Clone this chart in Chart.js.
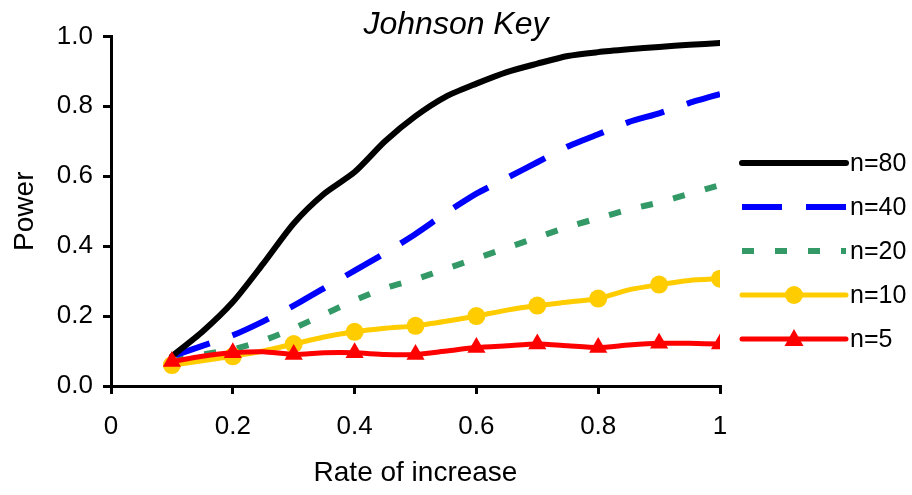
<!DOCTYPE html>
<html>
<head>
<meta charset="utf-8">
<title>Johnson Key</title>
<script src="https://cdn.jsdelivr.net/npm/chart.js@4"></script>
<style>
  html, body { margin: 0; padding: 0; background: #ffffff; }
  #wrap { width: 912px; height: 495px; position: relative; }
</style>
</head>
<body>
<div id="wrap"><canvas id="powerChart"></canvas></div>
<script>
// rate of increase (x) -- simulated every 0.05, markers every 0.1
const rates = [0.1, 0.15, 0.2, 0.25, 0.3, 0.35, 0.4, 0.45, 0.5, 0.55, 0.6, 0.65, 0.7, 0.75, 0.8, 0.85, 0.9, 0.95, 1.0];

const power80 = [0.085, 0.155, 0.24, 0.35, 0.465, 0.55, 0.612, 0.7, 0.772, 0.828, 0.865, 0.898, 0.922, 0.944, 0.955, 0.963, 0.97, 0.976, 0.981];
const power40 = [0.085, 0.115, 0.145, 0.185, 0.23, 0.28, 0.33, 0.38, 0.435, 0.495, 0.55, 0.595, 0.64, 0.685, 0.72, 0.755, 0.78, 0.81, 0.835];
const power20 = [0.075, 0.09, 0.105, 0.13, 0.165, 0.205, 0.245, 0.28, 0.305, 0.335, 0.365, 0.395, 0.425, 0.455, 0.48, 0.505, 0.525, 0.55, 0.575];
const power10 = [0.06, 0.072, 0.085, 0.1, 0.12, 0.14, 0.155, 0.165, 0.172, 0.185, 0.2, 0.217, 0.23, 0.24, 0.25, 0.275, 0.29, 0.302, 0.307];
const power5 = [0.07, 0.085, 0.095, 0.098, 0.09, 0.095, 0.095, 0.09, 0.09, 0.1, 0.11, 0.115, 0.12, 0.115, 0.11, 0.117, 0.122, 0.122, 0.12];

const seriesNames = ['n=80', 'n=40', 'n=20', 'n=10', 'n=5'];

const FONT = '"Liberation Sans", Arial, sans-serif';

function toPoints(values) {
    return values.map((v, i) => ({ x: rates[i], y: v }));
}

// markers only on the 0.1 steps (even indexes)
const everyOther = (r) => (ctx) => (ctx.dataIndex % 2 === 0 ? r : 0);

// legend drawn on the right, line sample + marker + label
const sideLegend = {
    id: 'sideLegend',
    afterDraw(chart) {
        const ctx = chart.ctx;
        const x0 = 742, x1 = 846, top = 163, step = 44;
        chart.data.datasets.forEach((ds, i) => {
            const y = top + i * step;
            ctx.save();
            ctx.strokeStyle = ds.borderColor;
            ctx.lineWidth = ds.borderWidth;
            ctx.lineCap = ds.borderCapStyle || 'butt';
            ctx.setLineDash(ds.borderDash || []);
            ctx.beginPath();
            ctx.moveTo(x0, y);
            ctx.lineTo(x1, y);
            ctx.stroke();
            ctx.setLineDash([]);
            const mx = (x0 + x1) / 2;
            ctx.fillStyle = ds.borderColor;
            if (ds.legendMarker === 'circle') {
                ctx.beginPath();
                ctx.arc(mx, y, 9, 0, Math.PI * 2);
                ctx.fill();
            } else if (ds.legendMarker === 'triangle') {
                ctx.beginPath();
                ctx.moveTo(mx, y - 10);
                ctx.lineTo(mx + 9.5, y + 7);
                ctx.lineTo(mx - 9.5, y + 7);
                ctx.closePath();
                ctx.fill();
            }
            ctx.fillStyle = '#000000';
            ctx.font = '25px ' + FONT;
            ctx.textAlign = 'left';
            ctx.textBaseline = 'middle';
            ctx.fillText(ds.label, 850, y + 1);
            ctx.restore();
        });
    }
};

new Chart(document.getElementById('powerChart').getContext('2d'), {
    type: 'line',
    data: {
        datasets: [
            { label: seriesNames[0], data: toPoints(power80), borderColor: '#000000', borderWidth: 6, borderCapStyle: 'round', pointRadius: 0, tension: 0.25, order: 2 },
            { label: seriesNames[1], data: toPoints(power40), borderColor: '#0000ff', borderWidth: 6, borderDash: [40, 24], pointRadius: 0, tension: 0.2, order: 3 },
            { label: seriesNames[2], data: toPoints(power20), borderColor: '#339966', borderWidth: 6, borderDash: [12, 21], pointRadius: 0, tension: 0.2, order: 4 },
            { label: seriesNames[3], data: toPoints(power10), borderColor: '#ffcc00', backgroundColor: '#ffcc00', borderWidth: 5, borderCapStyle: 'round',
              pointStyle: 'circle', pointRadius: everyOther(9), pointBorderWidth: 0, tension: 0.2, order: 1, legendMarker: 'circle' },
            { label: seriesNames[4], data: toPoints(power5), borderColor: '#ff0000', backgroundColor: '#ff0000', borderWidth: 5, borderCapStyle: 'round',
              pointStyle: 'triangle', pointRadius: everyOther(10.5), pointBorderWidth: 0, tension: 0.2, order: 0, legendMarker: 'triangle' }
        ]
    },
    options: {
        responsive: true,
        maintainAspectRatio: false,
        animation: false,
        events: [],
        layout: { padding: { left: 0, right: 0, top: 0, bottom: 0 } },
        plugins: {
            legend: { display: false },
            tooltip: { enabled: false },
            title: {
                display: true,
                text: 'Johnson Key',
                color: '#000000',
                font: { family: FONT, size: 32, style: 'italic', weight: 'normal' },
                padding: { top: 6, bottom: -8 }
            }
        },
        scales: {
            x: {
                type: 'linear',
                min: 0,
                max: 1,
                ticks: { stepSize: 0.2, color: '#000000', padding: 17, font: { family: FONT, size: 26 },
                         callback: (v) => String(Number(v.toFixed(2))) },
                grid: { drawOnChartArea: false, drawTicks: true, tickLength: 8, color: '#000000', lineWidth: 3 },
                border: { display: true, color: '#000000', width: 3 },
                title: { display: true, text: 'Rate of increase', color: '#000000', font: { family: FONT, size: 28 }, padding: { top: 0, bottom: 5 } },
                afterFit: (scale) => { scale.height = 109; }
            },
            y: {
                min: 0,
                max: 1,
                ticks: { stepSize: 0.2, color: '#000000', padding: 10, font: { family: FONT, size: 26 },
                         callback: (v) => v.toFixed(1) },
                grid: { drawOnChartArea: false, drawTicks: true, tickLength: 8, color: '#000000', lineWidth: 3 },
                border: { display: true, color: '#000000', width: 3 },
                title: { display: true, text: 'Power', color: '#000000', font: { family: FONT, size: 28 }, padding: { top: 8, bottom: 0 } },
                afterFit: (scale) => { scale.width = 111; }
            },
            // empty right-hand axis: keeps room for the legend
            legendSpace: {
                type: 'linear',
                position: 'right',
                min: 0,
                max: 1,
                ticks: { display: false },
                grid: { display: false, drawTicks: false },
                border: { display: false },
                afterFit: (scale) => { scale.width = 192; }
            }
        }
    },
    plugins: [sideLegend]
});
</script>
</body>
</html>
